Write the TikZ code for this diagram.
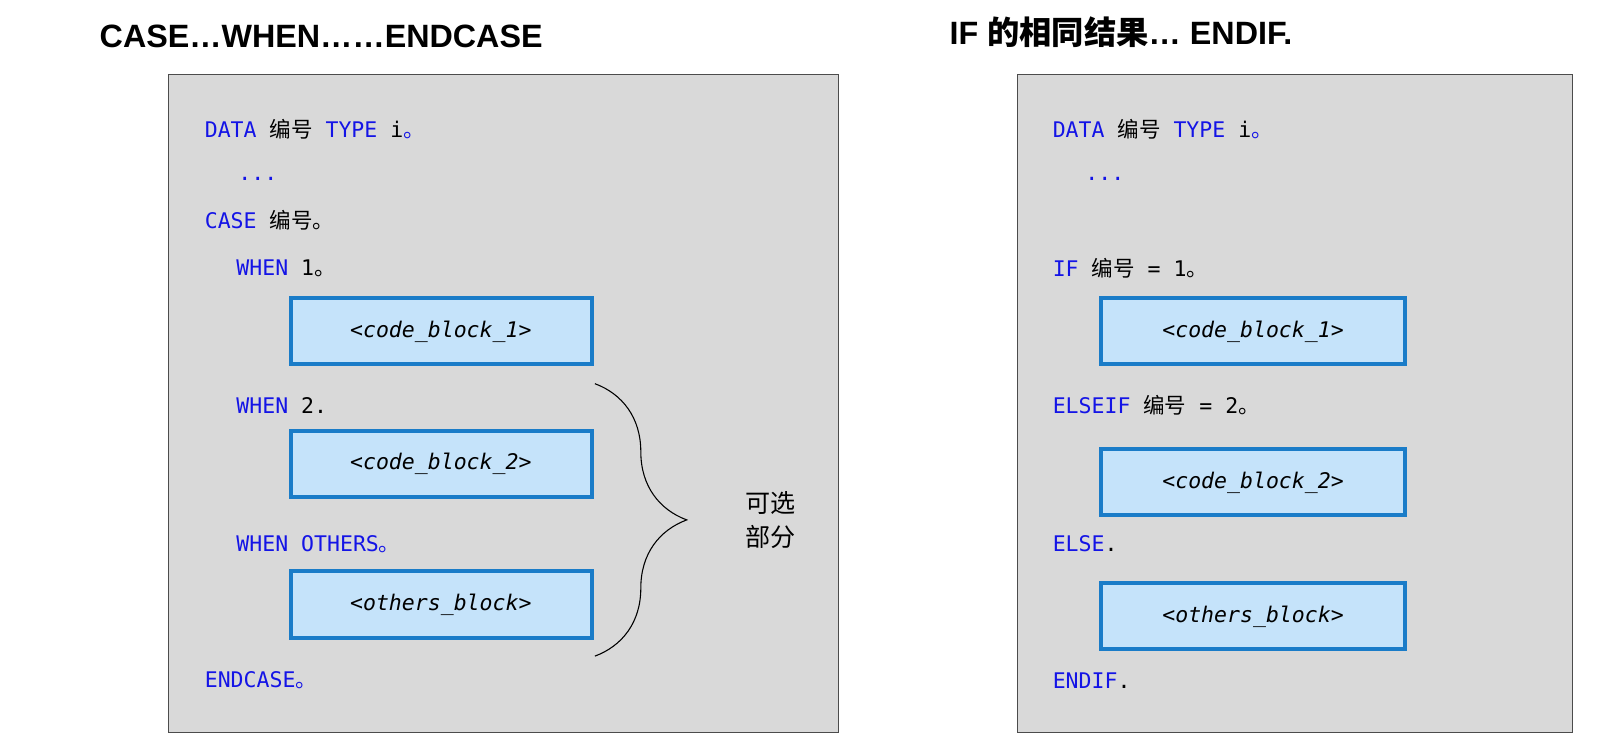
\documentclass[tikz,border=0pt]{standalone}
\usepackage{fontspec}
\setmainfont{Liberation Sans}
\setmonofont{DejaVu Sans Mono}
\newfontfamily\cjk{Noto Sans CJK SC}
\usetikzlibrary{decorations.pathreplacing}
\definecolor{kwblue}{RGB}{20,20,230}
\definecolor{panelgray}{RGB}{217,217,217}
\definecolor{blockfill}{RGB}{197,227,250}
\definecolor{blockline}{RGB}{26,124,200}
\tikzset{
  panel/.style={draw=black!70,fill=panelgray,line width=0.3pt},
  codeblock/.style={draw=blockline,fill=blockfill,line width=1.1pt},
  code/.style={anchor=west,inner sep=0pt,font=\ttfamily\fontsize{6}{7}\selectfont},
  title/.style={anchor=west,inner sep=0pt,font=\bfseries\fontsize{9}{10}\selectfont},
}
\newcommand{\kw}[1]{\textcolor{kwblue}{#1}}
\newcommand{\cn}[1]{{\cjk #1}}
\begin{document}
\begin{tikzpicture}[x=0.1mm,y=-0.1mm]
\useasboundingbox (0,0) rectangle (1568,729);
% titles
\node[title] (t1) at (97,36) {CASE…WHEN……ENDCASE};
\node[title] (t2) at (930,32) {IF \cn{的相同结果}… ENDIF.};
% left panel
\draw[panel] (165,73) rectangle (822,718);
\node[code] (l1) at (200,127) {\kw{DATA} \cn{编号} \kw{TYPE} i\kw{\cn{。}}};
\node[code] (l2) at (233,175) {\kw{...}};
\node[code] (l3) at (200,216) {\kw{CASE} \cn{编号。}};
\node[code] (l4) at (231,263) {\kw{WHEN} 1\cn{。}};
\draw[codeblock] (285,292) rectangle (580,357);
\node[code,anchor=center] (b1) at (432,325) {\itshape <code\_block\_1>};
\node[code] (l5) at (231,397) {\kw{WHEN} 2.};
\draw[codeblock] (285,422) rectangle (580,487);
\node[code,anchor=center] (b2) at (432,455) {\itshape <code\_block\_2>};
\node[code] (l6) at (231,533) {\kw{WHEN OTHERS\cn{。}}};
\draw[codeblock] (285,560) rectangle (580,625);
\node[code,anchor=center] (b3) at (432,593) {\itshape <others\_block>};
\node[code] (l7) at (200,667) {\kw{ENDCASE\cn{。}}};
% brace
\coordinate (br1) at (583,376);
\coordinate (br2) at (583,643);
\draw[decorate,decoration={brace,amplitude=9mm},line width=0.3pt] (br1) -- (br2);
\node[align=center,inner sep=0pt,font=\cjk\fontsize{7}{9.5}\selectfont] (opt) at (755,510) {可选\\部分};
% right panel
\draw[panel] (997,73) rectangle (1541,718);
\node[code] (r1) at (1031,127) {\kw{DATA} \cn{编号} \kw{TYPE} i\kw{\cn{。}}};
\node[code] (r2) at (1063,175) {\kw{...}};
\node[code] (r3) at (1031,263) {\kw{IF} \cn{编号} = 1\cn{。}};
\draw[codeblock] (1079,292) rectangle (1377,357);
\node[code,anchor=center] (c1) at (1228,325) {\itshape <code\_block\_1>};
\node[code] (r4) at (1031,397) {\kw{ELSEIF} \cn{编号} = 2\cn{。}};
\draw[codeblock] (1079,440) rectangle (1377,505);
\node[code,anchor=center] (c2) at (1228,473) {\itshape <code\_block\_2>};
\node[code] (r5) at (1031,533) {\kw{ELSE}.};
\draw[codeblock] (1079,571) rectangle (1377,636);
\node[code,anchor=center] (c3) at (1228,604) {\itshape <others\_block>};
\node[code] (r6) at (1031,667) {\kw{ENDIF}.};
\end{tikzpicture}
\end{document}
